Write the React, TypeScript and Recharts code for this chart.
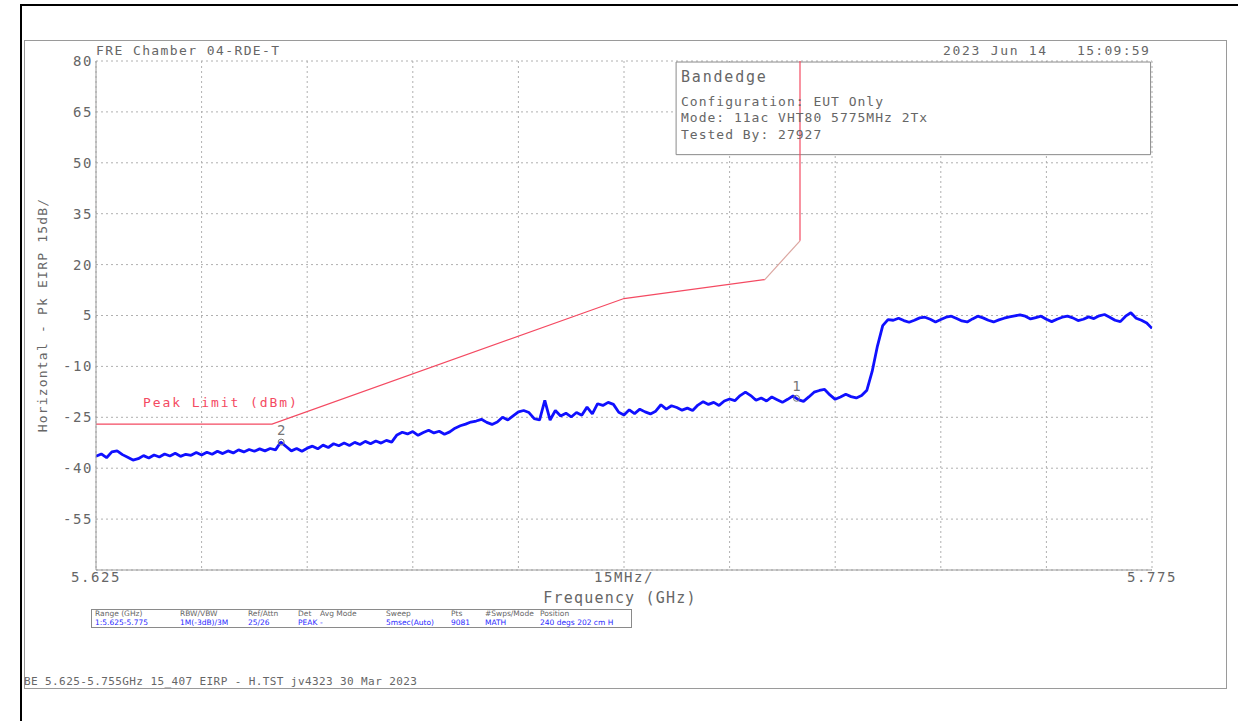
import React from "react";
import {
  LineChart,
  Line,
  XAxis,
  YAxis,
  CartesianGrid,
  ReferenceArea,
  ReferenceDot,
} from "recharts";

// ---------- data ----------
const FREQ_START = 5.625; // GHz
const FREQ_STEP = 0.00075; // GHz per trace point (0.75 MHz)

const TRACE_LEVELS = [
  -36.5, -35.8, -36.9, -35.2, -34.9, -36.0, -36.8, -37.6, -37.2, -36.3,
  -37.0, -36.1, -36.7, -35.8, -36.4, -35.6, -36.5, -35.9, -36.2, -35.4,
  -36.1, -35.3, -35.9, -35.0, -35.7, -34.9, -35.5, -34.6, -35.2, -34.5,
  -35.0, -34.3, -34.9, -34.2, -34.6, -32.3, -33.6, -34.9, -34.2, -35.0,
  -34.1, -33.5, -34.3, -33.2, -33.9, -32.8, -33.4, -32.6, -33.3, -32.4,
  -33.0, -32.1, -32.8, -32.0, -32.6, -31.8, -32.3, -30.2, -29.4, -29.9,
  -29.2, -30.3, -29.5, -28.8, -29.6, -29.1, -30.0, -29.3, -28.2, -27.5,
  -27.0, -26.4, -26.1, -25.6, -26.5, -27.1, -26.4, -25.0, -25.8, -24.6,
  -23.4, -23.0, -23.6, -25.4, -25.8, -20.0, -25.8, -23.0, -24.6, -23.8,
  -24.9, -23.6, -24.4, -22.0, -24.0, -21.0, -21.5, -20.6, -21.2, -23.5,
  -24.3, -22.8, -23.9, -22.6, -23.4, -24.0, -23.2, -21.3, -22.6, -21.6,
  -22.1, -22.9, -22.3, -23.0, -21.4, -20.4, -21.2, -20.6, -21.5, -20.2,
  -19.6, -20.1, -18.6, -17.6, -18.6, -20.0, -19.3, -20.2, -19.0, -19.8,
  -20.6, -19.7, -18.7, -19.8, -20.3, -19.0, -17.6, -17.1, -16.8, -18.4,
  -19.7, -19.0, -18.2, -18.9, -19.3, -18.6, -17.0, -11.5, -4.0, 2.0,
  3.8, 3.6, 4.2, 3.5, 3.0, 3.6, 4.3, 4.5, 3.9, 3.1,
  3.8, 4.5, 4.8, 4.1, 3.4, 3.1, 4.0, 4.8, 4.3, 3.6,
  3.1, 3.7, 4.2, 4.6, 4.9, 5.2, 4.8, 4.0, 4.4, 4.8,
  3.9, 3.2, 3.9, 4.5, 4.8, 4.3, 3.5, 3.9, 4.6, 4.1,
  4.9, 5.3, 4.5, 3.6, 3.2, 4.8, 5.8, 4.2, 3.6, 2.8,
  1.2,
];

// Peak limit (dBm) per FCC 15.407
const LIMIT_FREQS = [5.625, 5.65, 5.7, 5.72];
const LIMIT_LEVELS = [-27, -27, 10, 15.6];
const LIMIT_STEP_FREQS = [5.72, 5.725];
const LIMIT_STEP_LEVELS = [15.6, 27];
const LIMIT_EDGE_FREQS = [5.725, 5.725];
const LIMIT_EDGE_LEVELS = [27, 80];

// Markers
const MARKER_NAMES = ["1", "2"];
const MARKER_FREQS = [5.7245, 5.6513];
const MARKER_LEVELS = [-19.4, -32.3];

// Axes
const X_TICKS = [5.625, 5.64, 5.655, 5.67, 5.685, 5.7, 5.715, 5.73, 5.745, 5.76, 5.775];
const Y_TICKS = [-70, -55, -40, -25, -10, 5, 20, 35, 50, 65, 80];

// Annotation box extent (data units)
const BOX_X = [5.7074, 5.7748];
const BOX_Y = [52.4, 79.7];

// Settings table
const TABLE_HEAD = ["Range (GHz)", "RBW/VBW", "Ref/Attn", "Det", "Avg Mode", "Sweep", "Pts", "#Swps/Mode", "Position"];
const TABLE_VALS = ["1:5.625-5.775", "1M(-3dB)/3M", "25/26", "PEAK", "-", "5msec(Auto)", "9081", "MATH", "240 degs 202 cm H"];

const traceData = TRACE_LEVELS.map((v, i) => ({
  f: +(FREQ_START + i * FREQ_STEP).toFixed(6),
  v,
}));
const limitData = LIMIT_FREQS.map((f, i) => ({ f, v: LIMIT_LEVELS[i] }));
const limitStepData = LIMIT_STEP_FREQS.map((f, i) => ({ f, v: LIMIT_STEP_LEVELS[i] }));
const limitEdgeData = LIMIT_EDGE_FREQS.map((f, i) => ({ f, v: LIMIT_EDGE_LEVELS[i] }));

const FONT = "'DejaVu Sans Mono', 'Liberation Mono', monospace";
const GRAY = "#666666";
const RED = "#f44a62";
const BLUE = "#1010ff";

const abs = (left: number, top: number, extra: React.CSSProperties = {}): React.CSSProperties => ({
  position: "absolute",
  left,
  top,
  fontFamily: FONT,
  color: GRAY,
  whiteSpace: "pre",
  lineHeight: 1,
  ...extra,
});

const tableCols = [95, 180, 248, 298, 320, 386, 451, 485, 540];

export default function App() {
  return (
    <div
      style={{
        position: "absolute",
        left: 0,
        top: 0,
        width: 1238,
        height: 721,
        overflow: "hidden",
        background: "#fff",
      }}
    >
      {/* outer black frame */}
      <div
        style={{
          position: "absolute",
          left: 20,
          top: 4,
          width: 1230,
          height: 730,
          border: "2px solid #000",
          boxSizing: "border-box",
        }}
      />
      {/* inner gray frame */}
      <div
        style={{
          position: "absolute",
          left: 24,
          top: 40,
          width: 1203,
          height: 649,
          border: "1px solid #9a9a9a",
          boxSizing: "border-box",
        }}
      />

      <div style={{ position: "absolute", left: 0, top: 0 }}>
        <LineChart
          width={1238}
          height={721}
          data={traceData}
          margin={{ top: 61, right: 86, bottom: 121, left: 0 }}
        >
          <CartesianGrid stroke="#b0b0b0" strokeDasharray="2 3" />
          <XAxis
            dataKey="f"
            type="number"
            domain={[5.625, 5.775]}
            ticks={X_TICKS}
            allowDataOverflow
            height={30}
            tickLine={false}
            tickSize={0}
            tickMargin={2}
            axisLine={{ stroke: "#9a9a9a" }}
            interval={0}
            tick={{ fill: GRAY, fontFamily: FONT, fontSize: 14, letterSpacing: 1.6 }}
            tickFormatter={(_v: number, i: number) =>
              i === 0 ? "5.625" : i === 10 ? "5.775" : i === 5 ? "15MHz/" : ""
            }
          />
          <XAxis
            xAxisId="top"
            orientation="top"
            type="number"
            domain={[5.625, 5.775]}
            height={0}
            tick={false}
            tickLine={false}
            axisLine={{ stroke: "#9a9a9a" }}
          />
          <YAxis
            type="number"
            domain={[-70, 80]}
            ticks={Y_TICKS}
            allowDataOverflow
            width={96}
            tickLine={false}
            tickSize={0}
            tickMargin={3}
            axisLine={{ stroke: "#9a9a9a" }}
            interval={0}
            tick={{ fill: GRAY, fontFamily: FONT, fontSize: 14, letterSpacing: 1.6 }}
            tickFormatter={(v: number) => (v === -70 ? "" : String(v))}
          />
          <YAxis
            yAxisId="right"
            orientation="right"
            type="number"
            domain={[-70, 80]}
            width={0}
            tick={false}
            tickLine={false}
            axisLine={{ stroke: "#9a9a9a" }}
          />
          <ReferenceArea
            x1={BOX_X[0]}
            x2={BOX_X[1]}
            y1={BOX_Y[0]}
            y2={BOX_Y[1]}
            fill="#fff"
            fillOpacity={1}
            stroke="#8a8a8a"
            strokeWidth={1}
            ifOverflow="visible"
          />
          <Line
            data={traceData}
            dataKey="v"
            type="linear"
            stroke={BLUE}
            strokeWidth={2.8}
            strokeLinejoin="bevel"
            dot={false}
            isAnimationActive={false}
          />
          <Line
            data={limitData}
            dataKey="v"
            type="linear"
            stroke={RED}
            strokeWidth={1.2}
            dot={false}
            isAnimationActive={false}
          />
          <Line
            data={limitStepData}
            dataKey="v"
            type="linear"
            stroke="#dba6a0"
            strokeWidth={1.2}
            dot={false}
            isAnimationActive={false}
          />
          <Line
            data={limitEdgeData}
            dataKey="v"
            type="linear"
            stroke={RED}
            strokeWidth={1.2}
            dot={false}
            isAnimationActive={false}
          />
          {MARKER_NAMES.map((n, i) => (
            <ReferenceDot
              key={n}
              x={MARKER_FREQS[i]}
              y={MARKER_LEVELS[i]}
              r={3}
              fill="none"
              stroke="#777"
              strokeWidth={1}
              label={{
                value: n,
                position: "top",
                offset: 4,
                fill: "#777",
                fontFamily: FONT,
                fontSize: 14,
              }}
            />
          ))}
        </LineChart>
      </div>

      {/* header texts */}
      <div style={abs(96, 44, { fontSize: 13, letterSpacing: 1.4 })}>FRE Chamber 04-RDE-T</div>
      <div style={abs(943, 44, { fontSize: 13, letterSpacing: 1.7 })}>2023 Jun 14</div>
      <div style={abs(1077, 44, { fontSize: 13, letterSpacing: 1.3 })}>15:09:59</div>

      {/* annotation box text */}
      <div style={abs(681, 70, { fontSize: 15, letterSpacing: 1.8 })}>Bandedge</div>
      <div style={abs(681, 95, { fontSize: 13, letterSpacing: 1.0 })}>Configuration: EUT Only</div>
      <div style={abs(681, 111, { fontSize: 13, letterSpacing: 1.0 })}>Mode: 11ac VHT80 5775MHz 2Tx</div>
      <div style={abs(681, 128, { fontSize: 13, letterSpacing: 1.0 })}>Tested By: 27927</div>

      {/* limit label */}
      <div style={abs(143, 396, { fontSize: 13, letterSpacing: 1.9, color: RED })}>Peak Limit (dBm)</div>

      {/* y-axis title */}
      <div
        style={abs(42, 315, {
          fontSize: 13,
          letterSpacing: 1.2,
          transform: "translate(-50%, -50%) rotate(-90deg)",
        })}
      >
        Horizontal - Pk EIRP 15dB/
      </div>

      {/* x-axis title */}
      <div style={abs(620, 591, { fontSize: 15, letterSpacing: 1.2, transform: "translateX(-50%)" })}>
        Frequency (GHz)
      </div>

      {/* settings table */}
      <div
        style={{
          position: "absolute",
          left: 91,
          top: 609,
          width: 541,
          height: 19,
          border: "1px solid #8a8a8a",
          boxSizing: "border-box",
        }}
      />
      {TABLE_HEAD.map((t, i) => (
        <div key={"h" + t} style={abs(tableCols[i], 610, { fontSize: 7.5, fontFamily: "'DejaVu Sans', sans-serif" })}>
          {t}
        </div>
      ))}
      {TABLE_VALS.map((t, i) => (
        <div
          key={"v" + t}
          style={abs(tableCols[i], 619, { fontSize: 7.5, fontFamily: "'DejaVu Sans', sans-serif", color: "#2a2aff" })}
        >
          {t}
        </div>
      ))}

      {/* footer */}
      <div style={abs(24, 675, { fontSize: 11, letterSpacing: 0.4, lineHeight: 1.3 })}>
        BE 5.625-5.755GHz 15_407 EIRP - H.TST jv4323 30 Mar 2023
      </div>
    </div>
  );
}
